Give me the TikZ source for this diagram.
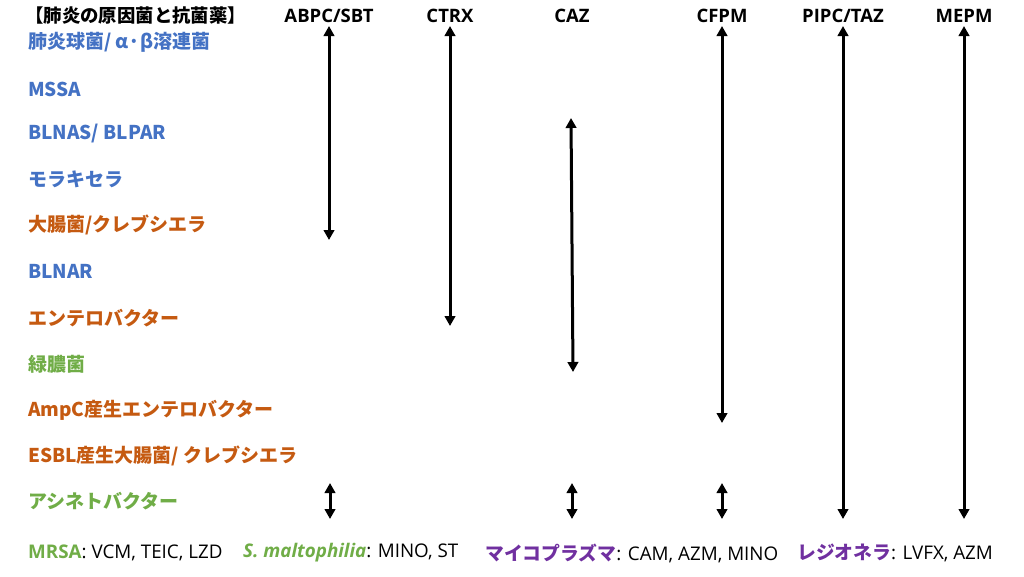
\documentclass[tikz,border=0pt]{standalone}
\usepackage{fontspec}
\setmainfont{Open Sans}
\newfontfamily\jp{Noto Sans CJK JP}
\usetikzlibrary{arrows.meta}
\definecolor{cblue}{HTML}{4472C4}
\definecolor{corange}{HTML}{C55A11}
\definecolor{cgreen}{HTML}{70AD47}
\definecolor{cpurple}{HTML}{7030A0}
\begin{document}
\begin{tikzpicture}[x=1pt,y=-1pt,
  lab/.style={anchor=west, inner sep=0pt, font=\jp\bfseries\fontsize{19}{19}\selectfont},
  ttl/.style={anchor=west, inner sep=0pt, font=\jp\bfseries\fontsize{18.4}{18.4}\selectfont},
  hdr/.style={inner sep=0pt, font=\bfseries\fontsize{18.5}{18.5}\selectfont},
  foot/.style={anchor=west, inner sep=0pt, font=\fontsize{18.8}{18.8}\selectfont},
  arr/.style={line width=3pt, {Triangle[width=10.5pt,length=10pt]}-{Triangle[width=10.5pt,length=10pt]}}]
\useasboundingbox (0,0) rectangle (1024,576);
% title and headers
\node[ttl] (title) at (25,16) {【肺炎の原因菌と抗菌薬】};
\node[hdr] (h1) at (329,16) {ABPC/SBT};
\node[hdr] (h2) at (450,16) {CTRX};
\node[hdr] (h3) at (572,16) {CAZ};
\node[hdr] (h4) at (722,16) {CFPM};
\node[hdr] (h5) at (843,16) {PIPC/TAZ};
\node[hdr] (h6) at (964,16) {MEPM};
% rows
\node[lab, text=cblue] (r1) at (28,42) {肺炎球菌/ α·β溶連菌};
\node[lab, text=cblue] (r2) at (28,89) {MSSA};
\node[lab, text=cblue] (r3) at (28,134) {BLNAS/ BLPAR};
\node[lab, text=cblue] (r4) at (28,179) {モラキセラ};
\node[lab, text=corange] (r5) at (28,225) {大腸菌/クレブシエラ};
\node[lab, text=cblue] (r6) at (28,271) {BLNAR};
\node[lab, text=corange] (r7) at (28,318) {エンテロバクター};
\node[lab, text=cgreen] (r8) at (28,364) {緑膿菌};
\node[lab, text=corange] (r9) at (28,410) {AmpC産生エンテロバクター};
\node[lab, text=corange] (r10) at (28,456) {ESBL産生大腸菌/ クレブシエラ};
\node[lab, text=cgreen] (r11) at (28,501) {アシネトバクター};
% footer
\node[foot] (f1) at (28,553) {{\color{cgreen}\bfseries MRSA}: VCM, TEIC, LZD};
\node[foot] (f2) at (243,553) {{\color{cgreen}\bfseries\itshape S. maltophilia}: MINO, ST};
\node[foot] (f3) at (485,553) {{\color{cpurple}\jp\bfseries マイコプラズマ}: CAM, AZM, MINO};
\node[foot] (f4) at (797,553) {{\color{cpurple}\jp\bfseries レジオネラ}: LVFX, AZM};
% arrow ends
\coordinate (a1t) at (329,26);  \coordinate (a1b) at (329,240);
\coordinate (a2t) at (450,26);  \coordinate (a2b) at (450,326);
\coordinate (a3t) at (571,118); \coordinate (a3b) at (573,372);
\coordinate (a4t) at (722,26);  \coordinate (a4b) at (722,423);
\coordinate (a5t) at (843,26);  \coordinate (a5b) at (843,519);
\coordinate (a6t) at (964,26);  \coordinate (a6b) at (964,519);
\coordinate (s1t) at (330,483); \coordinate (s1b) at (330,519);
\coordinate (s2t) at (572,483); \coordinate (s2b) at (572,519);
\coordinate (s3t) at (722,483); \coordinate (s3b) at (722,519);
\draw[arr] (a1t) -- (a1b);
\draw[arr] (a2t) -- (a2b);
\draw[arr] (a3t) -- (a3b);
\draw[arr] (a4t) -- (a4b);
\draw[arr] (a5t) -- (a5b);
\draw[arr] (a6t) -- (a6b);
\draw[arr] (s1t) -- (s1b);
\draw[arr] (s2t) -- (s2b);
\draw[arr] (s3t) -- (s3b);
\end{tikzpicture}
\end{document}
